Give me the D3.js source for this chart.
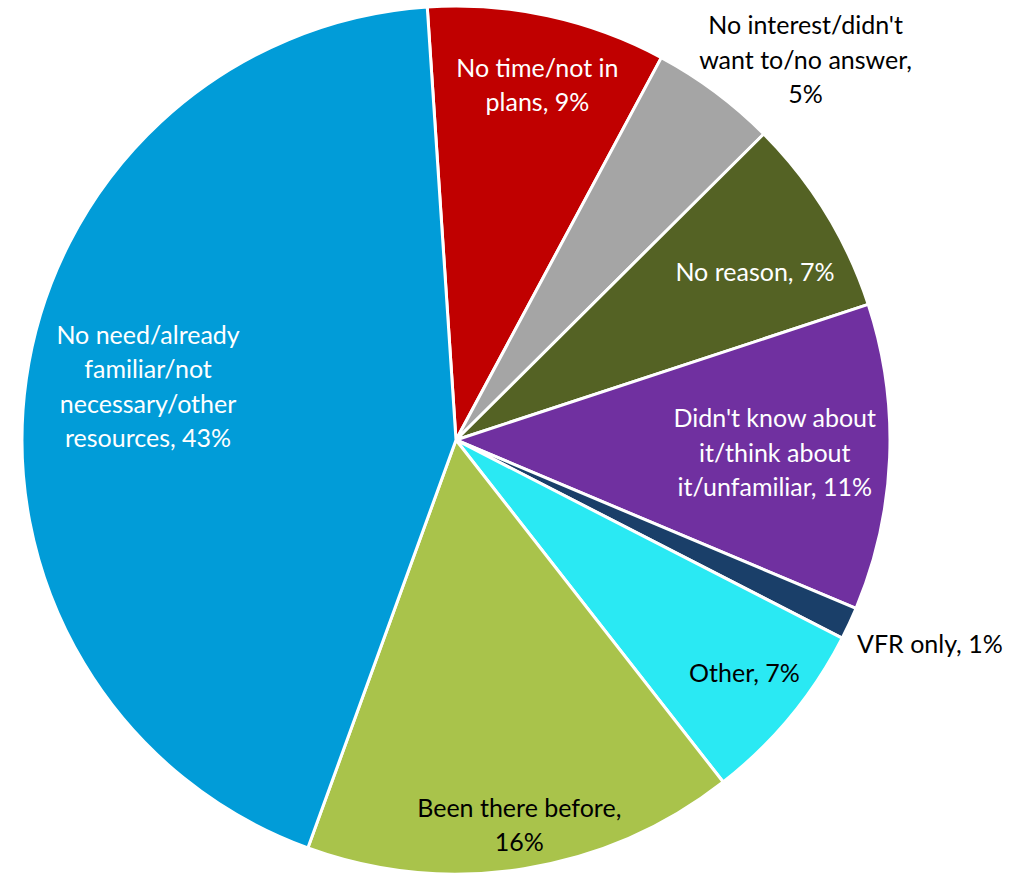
<!DOCTYPE html>
<html>
<head>
<meta charset="utf-8">
<script src="https://cdn.jsdelivr.net/npm/d3@7"></script>
<style>
  body { margin: 0; background: #fff; }
  svg text { font-family: Lato, "Open Sans", sans-serif; }
</style>
</head>
<body>
<div id="chart"></div>
<script>
// Reasons, clockwise from the top
const categories = [
    "No time/not in\nplans",
    "No interest/didn't\nwant to/no answer",
    "No reason",
    "Didn't know about\nit/think about\nit/unfamiliar",
    "VFR only",
    "Other",
    "Been there before",
    "No need/already\nfamiliar/not\nnecessary/other\nresources"
];
const values = [8.9, 4.7, 7.4, 11.4, 1.2, 6.9, 16.1, 43.4];
const colors = ["#c00000", "#a5a5a5", "#546224", "#7030a0", "#1a3f69", "#2ae9f3", "#a9c34b", "#019cd8"];
const textColors = ["#fff", "#000", "#fff", "#fff", "#000", "#000", "#000", "#fff"];
// percent goes on its own line for these
const pctOwnLine = [false, true, false, false, false, false, true, false];

// label placement: distance from centre (fraction of radius) and angle nudge (deg)
const labelRadius = [0.839, 1.19, 0.79, 0.735, 1.037, 0.855, 0.9, 0.72];
const labelNudge = [0.7, 5.9, 2.2, 0, 2, -0.6, -0.3, 1.7];

const width = 1024;
const height = 873;
const cx = 456, cy = 440, radius = 434;

const svg = d3.select("#chart").append("svg")
    .attr("width", width)
    .attr("height", height);

const g = svg.append("g").attr("transform", `translate(${cx},${cy})`);

const startAngle = -3.8 * Math.PI / 180;
const pie = d3.pie()
    .sort(null)
    .value(d => d)
    .startAngle(startAngle)
    .endAngle(startAngle + 2 * Math.PI);

const arcs = pie(values);
const arc = d3.arc().innerRadius(0).outerRadius(radius);

g.selectAll("path")
    .data(arcs)
    .enter().append("path")
    .attr("d", arc)
    .attr("fill", (d, i) => colors[i])
    .attr("stroke", "#fff")
    .attr("stroke-width", 3)
    .attr("stroke-linejoin", "round");

// Labels
const fontSize = 25;
const lineH = 34.5;
arcs.forEach((d, i) => {
    const pct = Math.round(values[i]) + "%";
    let lines = categories[i].split("\n");
    if (pctOwnLine[i]) {
        lines[lines.length - 1] += ",";
        lines.push(pct);
    } else {
        lines[lines.length - 1] += ", " + pct;
    }
    const a = (d.startAngle + d.endAngle) / 2 + labelNudge[i] * Math.PI / 180;
    const r = radius * labelRadius[i];
    const x = Math.sin(a) * r;
    const y = -Math.cos(a) * r;
    const t = g.append("text")
        .attr("text-anchor", i === 4 ? "start" : "middle")
        .attr("fill", textColors[i])
        .attr("font-size", fontSize);
    const y0 = y - (lines.length - 1) * lineH / 2;
    lines.forEach((ln, j) => {
        t.append("tspan")
            .attr("x", x)
            .attr("y", y0 + j * lineH)
            .attr("dy", "0.35em")
            .text(ln);
    });
});
</script>
</body>
</html>
